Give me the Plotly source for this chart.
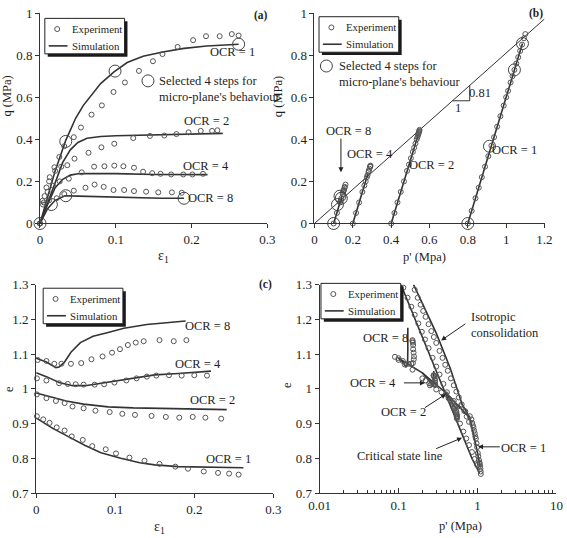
import plotly.graph_objects as go

W, H = 567, 538
def px(x): return x / W
def py(y): return 1 - y / H

# ---------------- Panel (a): q vs eps1 ----------------
a_exp1_x = [0, 0.0034, 0.0085, 0.0128, 0.019, 0.0255, 0.032, 0.0446, 0.054, 0.068, 0.0816, 0.097, 0.112, 0.1305, 0.149, 0.1616, 0.1816, 0.202, 0.219, 0.237, 0.253, 0.262]
a_exp1_y = [0, 0.108, 0.171, 0.22, 0.267, 0.316, 0.367, 0.41, 0.456, 0.517, 0.561, 0.625, 0.67, 0.725, 0.771, 0.805, 0.839, 0.871, 0.89, 0.89, 0.90, 0.893]
a_exp2_x = [0, 0.006, 0.012, 0.02, 0.028, 0.036, 0.0455, 0.064, 0.081, 0.098, 0.123, 0.145, 0.164, 0.18, 0.196, 0.212, 0.227, 0.234]
a_exp2_y = [0, 0.13, 0.2, 0.25, 0.27, 0.277, 0.308, 0.336, 0.362, 0.379, 0.406, 0.416, 0.418, 0.425, 0.433, 0.44, 0.44, 0.443]
a_exp4_x = [0, 0.005, 0.01, 0.017, 0.026, 0.038, 0.055, 0.0714, 0.085, 0.098, 0.11, 0.124, 0.136, 0.148, 0.159, 0.173, 0.189, 0.201, 0.215]
a_exp4_y = [0, 0.1, 0.15, 0.18, 0.2, 0.213, 0.243, 0.27, 0.272, 0.275, 0.272, 0.265, 0.246, 0.239, 0.236, 0.233, 0.233, 0.233, 0.236]
a_exp8_x = [0, 0.004, 0.012, 0.022, 0.032, 0.0446, 0.06, 0.072, 0.084, 0.097, 0.111, 0.124, 0.14, 0.156, 0.174, 0.187]
a_exp8_y = [0, 0.09, 0.11, 0.12, 0.14, 0.156, 0.17, 0.185, 0.174, 0.159, 0.159, 0.154, 0.151, 0.148, 0.148, 0.146]

a_sim1_x = [0, 0.01, 0.02, 0.034, 0.047, 0.057, 0.068, 0.08, 0.098, 0.115, 0.136, 0.162, 0.19, 0.22, 0.262]
a_sim1_y = [0, 0.13, 0.25, 0.395, 0.5, 0.56, 0.613, 0.665, 0.722, 0.765, 0.795, 0.815, 0.832, 0.843, 0.852]
a_sim2_x = [0, 0.01, 0.02, 0.03, 0.04, 0.05, 0.062, 0.08, 0.1, 0.15, 0.2, 0.241]
a_sim2_y = [0, 0.1, 0.2, 0.29, 0.35, 0.385, 0.405, 0.413, 0.417, 0.421, 0.425, 0.428]
a_sim4_x = [0, 0.01, 0.02, 0.03, 0.04, 0.05, 0.06, 0.1, 0.15, 0.2, 0.221]
a_sim4_y = [0, 0.09, 0.17, 0.21, 0.23, 0.236, 0.237, 0.237, 0.233, 0.232, 0.232]
a_sim8_x = [0, 0.01, 0.02, 0.033, 0.05, 0.08, 0.1, 0.13, 0.16, 0.19]
a_sim8_y = [0, 0.07, 0.11, 0.132, 0.13, 0.127, 0.125, 0.12, 0.12, 0.12]

a_sel_x = [0, 0.034, 0.099, 0.262, 0.015, 0.034, 0.19]
a_sel_y = [0, 0.39, 0.724, 0.852, 0.09, 0.132, 0.12]

# ---------------- Panel (b): q vs p' ----------------
b_exp1_p = [0.8, 0.82, 0.84, 0.857, 0.873, 0.89, 0.907, 0.923, 0.937, 0.953, 0.97, 0.987, 1.0, 1.01, 1.023, 1.033, 1.043, 1.053, 1.063, 1.073, 1.083, 1.093, 1.1]
b_exp1_q = [0, 0.06, 0.12, 0.17, 0.22, 0.27, 0.32, 0.37, 0.41, 0.46, 0.51, 0.56, 0.6, 0.63, 0.67, 0.7, 0.73, 0.76, 0.79, 0.82, 0.85, 0.88, 0.9]
b_exp2_p = [0.4, 0.417, 0.433, 0.45, 0.467, 0.483, 0.493, 0.503, 0.513, 0.52, 0.527, 0.533, 0.537, 0.54, 0.542, 0.543, 0.545, 0.547, 0.548]
b_exp2_q = [0, 0.05, 0.1, 0.15, 0.2, 0.25, 0.28, 0.31, 0.34, 0.36, 0.38, 0.4, 0.41, 0.42, 0.425, 0.43, 0.435, 0.44, 0.445]
b_exp4_p = [0.2, 0.217, 0.233, 0.25, 0.26, 0.267, 0.273, 0.277, 0.282, 0.283, 0.287, 0.29, 0.292, 0.291]
b_exp4_q = [0, 0.05, 0.1, 0.15, 0.18, 0.2, 0.22, 0.23, 0.245, 0.25, 0.26, 0.27, 0.275, 0.272]
b_exp8_p = [0.1, 0.117, 0.133, 0.137, 0.14, 0.147, 0.152, 0.157, 0.162, 0.158, 0.153, 0.151, 0.149]
b_exp8_q = [0, 0.05, 0.1, 0.11, 0.12, 0.14, 0.156, 0.17, 0.185, 0.174, 0.159, 0.154, 0.148]

b_sim1_p = [0.8, 0.85, 0.9, 0.95, 1.0, 1.05, 1.085]
b_sim1_q = [0, 0.15, 0.3, 0.45, 0.6, 0.75, 0.855]
b_sim2_p = [0.4, 0.45, 0.5, 0.543]
b_sim2_q = [0, 0.15, 0.3, 0.428]
b_sim4_p = [0.2, 0.25, 0.279]
b_sim4_q = [0, 0.15, 0.237]
b_sim8_p = [0.1, 0.127, 0.144, 0.14]
b_sim8_q = [0, 0.08, 0.133, 0.12]

b_csl_p = [0, 1.2]
b_csl_q = [0, 0.972]
b_tri_p = [0.72, 0.81, 0.81]
b_tri_q = [0.583, 0.583, 0.656]

b_sel_p = [0.8, 0.913, 1.043, 1.085, 0.1, 0.12, 0.133, 0.14]
b_sel_q = [0, 0.367, 0.73, 0.855, 0, 0.09, 0.13, 0.12]

# ---------------- Panel (c): e vs eps1 ----------------
c_exp8_x = [0.002, 0.013, 0.023, 0.032, 0.044, 0.057, 0.07, 0.084, 0.096, 0.106, 0.116, 0.126, 0.136, 0.156, 0.174, 0.19]
c_exp8_y = [1.083, 1.08, 1.072, 1.072, 1.072, 1.074, 1.085, 1.093, 1.104, 1.114, 1.126, 1.133, 1.137, 1.14, 1.137, 1.14]
c_exp4_x = [0.001, 0.013, 0.029, 0.04, 0.05, 0.06, 0.074, 0.086, 0.099, 0.114, 0.127, 0.14, 0.152, 0.168, 0.184, 0.2, 0.216]
c_exp4_y = [1.03, 1.024, 1.016, 1.014, 1.013, 1.012, 1.012, 1.013, 1.018, 1.024, 1.03, 1.035, 1.038, 1.039, 1.038, 1.039, 1.038]
c_exp2_x = [0.001, 0.013, 0.025, 0.036, 0.046, 0.06, 0.075, 0.093, 0.109, 0.125, 0.146, 0.164, 0.181, 0.198, 0.214, 0.234]
c_exp2_y = [0.984, 0.973, 0.965, 0.959, 0.949, 0.944, 0.937, 0.933, 0.928, 0.925, 0.922, 0.919, 0.917, 0.919, 0.917, 0.914]
c_exp1_x = [0.001, 0.009, 0.017, 0.026, 0.036, 0.045, 0.059, 0.071, 0.088, 0.101, 0.118, 0.137, 0.156, 0.176, 0.192, 0.212, 0.23, 0.244, 0.256]
c_exp1_y = [0.921, 0.912, 0.902, 0.889, 0.88, 0.863, 0.853, 0.835, 0.826, 0.814, 0.802, 0.793, 0.784, 0.776, 0.77, 0.762, 0.758, 0.756, 0.753]

c_sim8_x = [0, 0.013, 0.025, 0.029, 0.036, 0.044, 0.056, 0.072, 0.091, 0.111, 0.14, 0.189]
c_sim8_y = [1.088, 1.077, 1.061, 1.063, 1.077, 1.105, 1.133, 1.151, 1.162, 1.174, 1.185, 1.195]
c_sim4_x = [0, 0.013, 0.029, 0.046, 0.062, 0.082, 0.103, 0.127, 0.15, 0.18, 0.221]
c_sim4_y = [1.046, 1.035, 1.018, 1.009, 1.009, 1.016, 1.024, 1.033, 1.04, 1.044, 1.051]
c_sim2_x = [0, 0.017, 0.038, 0.06, 0.091, 0.123, 0.15, 0.197, 0.241]
c_sim2_y = [0.988, 0.977, 0.965, 0.956, 0.948, 0.945, 0.944, 0.943, 0.94]
c_sim1_x = [0, 0.021, 0.042, 0.062, 0.082, 0.107, 0.131, 0.15, 0.18, 0.221, 0.262]
c_sim1_y = [0.916, 0.886, 0.861, 0.837, 0.816, 0.8, 0.787, 0.781, 0.776, 0.774, 0.773]

# ---------------- Panel (d): e vs log p' ----------------
d_iso_sim_p = [0.155, 0.3, 0.45, 0.64, 0.8]
d_iso_sim_e = [1.3, 1.16, 1.06, 0.955, 0.916]
d_iso_exp_p = [0.16, 0.175, 0.19, 0.205, 0.22, 0.24, 0.26, 0.28, 0.3, 0.33, 0.36, 0.39, 0.42, 0.46, 0.5, 0.54, 0.58, 0.63, 0.68, 0.73, 0.78]
d_iso_exp_e = [1.285, 1.262, 1.242, 1.224, 1.207, 1.186, 1.166, 1.149, 1.132, 1.109, 1.089, 1.069, 1.052, 1.03, 1.01, 0.992, 0.975, 0.955, 0.936, 0.92, 0.905]

d_csl_sim_p = [0.107, 0.2, 0.3, 0.45, 0.65, 0.85, 1.06]
d_csl_sim_e = [1.3, 1.15, 1.055, 0.957, 0.865, 0.8, 0.757]
d_csl_exp_p = [0.115, 0.13, 0.145, 0.16, 0.178, 0.197, 0.216, 0.24, 0.27, 0.3, 0.33, 0.37, 0.41, 0.45, 0.5, 0.55, 0.6, 0.66, 0.72, 0.78, 0.85, 0.92, 0.99]
d_csl_exp_e = [1.291, 1.262, 1.236, 1.213, 1.188, 1.164, 1.142, 1.117, 1.089, 1.064, 1.041, 1.014, 0.99, 0.968, 0.943, 0.921, 0.9, 0.877, 0.857, 0.838, 0.818, 0.798, 0.781]

d_sw_sim_p = [0.1, 0.2, 0.4, 0.8]
d_sw_sim_e = [1.088, 1.046, 0.988, 0.916]
d_sw_exp_p = [0.09, 0.1, 0.12, 0.15, 0.25, 0.3, 0.35, 0.5, 0.6, 0.7]
d_sw_exp_e = [1.092, 1.088, 1.07, 1.055, 1.01, 0.998, 0.99, 0.965, 0.95, 0.935]

d_sim1_p = [0.8, 0.88, 0.97, 1.04, 1.085]
d_sim1_e = [0.916, 0.877, 0.83, 0.795, 0.773]
d_exp1_p = [0.8, 0.836, 0.857, 0.873, 0.889, 0.905, 0.922, 0.937, 0.952, 0.972, 0.987, 1.008, 1.023, 1.042, 1.057, 1.068, 1.08, 1.09, 1.097, 1.1]
d_exp1_e = [0.921, 0.912, 0.902, 0.895, 0.889, 0.88, 0.872, 0.863, 0.856, 0.843, 0.832, 0.815, 0.806, 0.795, 0.788, 0.784, 0.777, 0.77, 0.762, 0.755]

d_sim2_p = [0.4, 0.45, 0.5, 0.53, 0.543]
d_sim2_e = [0.988, 0.97, 0.955, 0.947, 0.94]
d_exp2_p = [0.4, 0.43, 0.46, 0.49, 0.51, 0.525, 0.535, 0.54, 0.542, 0.545, 0.545, 0.547, 0.548, 0.548]
d_exp2_e = [0.984, 0.973, 0.965, 0.959, 0.949, 0.944, 0.937, 0.933, 0.928, 0.925, 0.921, 0.919, 0.917, 0.914]

d_sim4_p = [0.2, 0.23, 0.26, 0.275, 0.279, 0.279, 0.279]
d_sim4_e = [1.046, 1.03, 1.015, 1.009, 1.02, 1.035, 1.051]
d_exp4_p = [0.2, 0.22, 0.245, 0.26, 0.275, 0.283, 0.29, 0.29, 0.29, 0.29, 0.288, 0.283, 0.28, 0.279, 0.277]
d_exp4_e = [1.03, 1.024, 1.016, 1.014, 1.013, 1.012, 1.012, 1.013, 1.018, 1.024, 1.03, 1.035, 1.038, 1.039, 1.038]

d_sim8_p = [0.1, 0.115, 0.125, 0.13, 0.131, 0.131, 0.131]
d_sim8_e = [1.088, 1.075, 1.062, 1.07, 1.11, 1.15, 1.176]
d_exp8_p = [0.1, 0.113, 0.125, 0.135, 0.145, 0.152, 0.156, 0.157, 0.155, 0.153, 0.153, 0.152, 0.15, 0.15]
d_exp8_e = [1.083, 1.08, 1.072, 1.072, 1.072, 1.074, 1.085, 1.093, 1.104, 1.114, 1.126, 1.133, 1.137, 1.14]

legend_labels = ["Experiment", "Simulation"]
selected_label = "Selected 4 steps for<br>micro-plane's behaviour"

# ---------------- Styles ----------------
SERIF = "Liberation Serif"
TXT = "#1e1e1e"
MCOL = "#555555"
LCOL = "#333333"
EXP = dict(symbol="circle-open", size=5, color=MCOL, line=dict(width=1, color=MCOL))
BIG = dict(symbol="circle-open", size=12, color="#444444", line=dict(width=1, color="#444444"))
SIM = dict(color=LCOL, width=1.6)
FS = 12.5

fig = go.Figure()
axes = {"a": ("x", "y"), "b": ("x2", "y2"), "c": ("x3", "y3"), "d": ("x4", "y4")}

def exp(panel, x, y):
    xa, ya = axes[panel]
    fig.add_trace(go.Scatter(x=x, y=y, mode="markers", marker=EXP, xaxis=xa, yaxis=ya,
                             name=legend_labels[0], showlegend=False, cliponaxis=False))

def sim(panel, x, y, line=SIM):
    xa, ya = axes[panel]
    fig.add_trace(go.Scatter(x=x, y=y, mode="lines", line=line, xaxis=xa, yaxis=ya,
                             name=legend_labels[1], showlegend=False))

for xs, ys in [(a_sim1_x, a_sim1_y), (a_sim2_x, a_sim2_y), (a_sim4_x, a_sim4_y), (a_sim8_x, a_sim8_y)]:
    sim("a", xs, ys)
for xs, ys in [(a_exp1_x, a_exp1_y), (a_exp2_x, a_exp2_y), (a_exp4_x, a_exp4_y), (a_exp8_x, a_exp8_y)]:
    exp("a", xs, ys)
fig.add_trace(go.Scatter(x=a_sel_x, y=a_sel_y, mode="markers", marker=BIG, xaxis="x", yaxis="y",
                         showlegend=False, cliponaxis=False, name="Selected"))
sim("b", b_csl_p, b_csl_q, line=dict(color=LCOL, width=1))
sim("b", b_tri_p, b_tri_q, line=dict(color=LCOL, width=1))
for xs, ys in [(b_sim1_p, b_sim1_q), (b_sim2_p, b_sim2_q), (b_sim4_p, b_sim4_q), (b_sim8_p, b_sim8_q)]:
    sim("b", xs, ys)
for xs, ys in [(b_exp1_p, b_exp1_q), (b_exp2_p, b_exp2_q), (b_exp4_p, b_exp4_q), (b_exp8_p, b_exp8_q)]:
    exp("b", xs, ys)
fig.add_trace(go.Scatter(x=b_sel_p, y=b_sel_q, mode="markers", marker=BIG, xaxis="x2", yaxis="y2",
                         showlegend=False, cliponaxis=False, name="Selected"))
for xs, ys in [(c_sim8_x, c_sim8_y), (c_sim4_x, c_sim4_y), (c_sim2_x, c_sim2_y), (c_sim1_x, c_sim1_y)]:
    sim("c", xs, ys)
for xs, ys in [(c_exp8_x, c_exp8_y), (c_exp4_x, c_exp4_y), (c_exp2_x, c_exp2_y), (c_exp1_x, c_exp1_y)]:
    exp("c", xs, ys)
for xs, ys in [(d_iso_sim_p, d_iso_sim_e), (d_csl_sim_p, d_csl_sim_e), (d_sw_sim_p, d_sw_sim_e),
               (d_sim1_p, d_sim1_e), (d_sim2_p, d_sim2_e), (d_sim4_p, d_sim4_e), (d_sim8_p, d_sim8_e)]:
    sim("d", xs, ys)
for xs, ys in [(d_iso_exp_p, d_iso_exp_e), (d_csl_exp_p, d_csl_exp_e), (d_sw_exp_p, d_sw_exp_e),
               (d_exp1_p, d_exp1_e), (d_exp2_p, d_exp2_e), (d_exp4_p, d_exp4_e), (d_exp8_p, d_exp8_e)]:
    exp("d", xs, ys)

TICKF = dict(family=SERIF, size=13, color=TXT)
def axstyle(**kw):
    d = dict(showline=True, linecolor=LCOL, linewidth=1, ticks="outside", ticklen=4,
             tickcolor=LCOL, showgrid=False, zeroline=False, tickfont=TICKF, fixedrange=True)
    d.update(kw)
    return d

ya_dom = [py(222.7), py(6.2)]
yc_dom = [py(500), py(285.5)]
fig.update_layout(
    width=W, height=H, margin=dict(l=0, r=0, t=0, b=0),
    paper_bgcolor="white", plot_bgcolor="white", showlegend=False,
    font=dict(family=SERIF, size=FS, color=TXT),
    xaxis=axstyle(domain=[px(30), px(265.3)], anchor="y", range=[0, 0.3], dtick=0.1),
    yaxis=axstyle(domain=ya_dom, anchor="x", range=[0, 1], dtick=0.2),
    xaxis2=axstyle(domain=[px(314), px(552)], anchor="y2", range=[0, 1.2], dtick=0.2),
    yaxis2=axstyle(domain=ya_dom, anchor="x2", range=[0, 1], dtick=0.2),
    xaxis3=axstyle(domain=[px(26), px(271.5)], anchor="y3", range=[0, 0.3], dtick=0.1),
    yaxis3=axstyle(domain=yc_dom, anchor="x3", range=[0.7, 1.3], dtick=0.1),
    xaxis4=axstyle(domain=[px(319.3), px(564.4)], anchor="y4", type="log", range=[-2, 1], dtick=1,
                   ticks="inside", ticklen=5,
                   minor=dict(ticks="inside", ticklen=3, tickcolor=LCOL, showgrid=False)),
    yaxis4=axstyle(domain=yc_dom, anchor="x4", range=[0.7, 1.3], dtick=0.1),
)

ann = []
shapes = []
def txt(xr, yr, x, y, t, size=FS, xanchor="center", align="center", bold=False):
    ann.append(dict(xref=xr, yref=yr, x=x, y=y, text=("<b>%s</b>" % t if bold else t), showarrow=False,
                    xanchor=xanchor, yanchor="middle", align=align,
                    font=dict(family=SERIF, size=size, color=TXT)))
def arrow(xr, yr, x, y, ax, ay):
    ann.append(dict(xref=xr, yref=yr, axref=xr, ayref=yr, x=x, y=y, ax=ax, ay=ay, text=" ",
                    showarrow=True, arrowhead=2, arrowsize=1, arrowwidth=1, arrowcolor="#222",
                    font=dict(size=1)))
def pcircle(cx, cy, r, color, width=1):
    shapes.append(dict(type="circle", xref="paper", yref="paper", xsizemode="pixel", ysizemode="pixel",
                       xanchor=px(cx), yanchor=py(cy), x0=-r, x1=r, y0=-r, y1=r,
                       line=dict(color=color, width=width), fillcolor="rgba(0,0,0,0)", layer="above"))

# hand-drawn legend boxes (with drop shadow), positioned in pixels
for (lx, ly) in [(35, 11.7), (318.7, 10), (33.3, 289.3), (320.7, 284.3)]:
    bw, bh = 82.5, 36.5
    shapes.append(dict(type="rect", xref="paper", yref="paper", x0=px(lx + 3), x1=px(lx + 3 + bw),
                       y0=py(ly + 3 + bh), y1=py(ly + 3), fillcolor="#1a1a1a", line=dict(width=0), layer="above"))
    shapes.append(dict(type="rect", xref="paper", yref="paper", x0=px(lx), x1=px(lx + bw),
                       y0=py(ly + bh), y1=py(ly), fillcolor="white", line=dict(color="#222", width=1), layer="above"))
    pcircle(lx + 12.8, ly + 11, 2.5, MCOL)
    shapes.append(dict(type="line", xref="paper", yref="paper", x0=px(lx + 4), x1=px(lx + 23.5),
                       y0=py(ly + 28.3), y1=py(ly + 28.3), line=dict(color=LCOL, width=1.6), layer="above"))
    txt("paper", "paper", px(lx + 26), py(ly + 11), legend_labels[0], 10.8, xanchor="left")
    txt("paper", "paper", px(lx + 26), py(ly + 28.3), legend_labels[1], 10.8, xanchor="left")

# panel a texts
txt("x", "y", 0.291, 0.99, "(a)", 11.5, bold=True)
txt("x", "y", 0.254, 0.813, "OCR = 1")
txt("x", "y", 0.219, 0.485, "OCR = 2")
txt("x", "y", 0.219, 0.274, "OCR = 4")
txt("x", "y", 0.2245, 0.123, "OCR = 8")
pcircle(141.7, 76, 6, "#444")
txt("paper", "paper", px(151.5), py(84), selected_label, FS, xanchor="left", align="left")
# panel b texts
txt("x2", "y2", 1.155, 0.998, "(b)", 11.5, bold=True)
txt("x2", "y2", 0.18, 0.44, "OCR = 8")
arrow("x2", "y2", 0.138, 0.243, 0.138, 0.413)
txt("x2", "y2", 0.289, 0.328, "OCR = 4")
txt("x2", "y2", 0.609, 0.277, "OCR = 2")
txt("x2", "y2", 1.045, 0.351, "OCR = 1")
txt("x2", "y2", 0.861, 0.621, "0.81")
txt("x2", "y2", 0.751, 0.547, "1")
pcircle(326.3, 60.7, 6, "#444")
txt("paper", "paper", px(337), py(68.5), selected_label, FS, xanchor="left", align="left")
# panel c texts
txt("x3", "y3", 0.29, 1.3, "(c)", 11.5, bold=True)
txt("x3", "y3", 0.2167, 1.181, "OCR = 8")
txt("x3", "y3", 0.205, 1.071, "OCR = 4")
txt("x3", "y3", 0.2228, 0.967, "OCR = 2")
txt("x3", "y3", 0.243, 0.798, "OCR = 1")
# panel d texts (log axis -> log10 positions)
txt("x4", "y4", 0.845, 1.302, "(d)", 11.5, bold=True)
txt("x4", "y4", -1.163, 1.145, "OCR = 8")
txt("x4", "y4", -1.318, 1.017, "OCR = 4")
arrow("x4", "y4", -0.666, 1.017, -0.951, 1.017)
txt("x4", "y4", -0.935, 0.933, "OCR = 2")
arrow("x4", "y4", -0.40, 0.985, -0.685, 0.943)
txt("x4", "y4", -0.976, 0.808, "Critical state line")
arrow("x4", "y4", -0.196, 0.859, -0.543, 0.826)
txt("x4", "y4", -0.103, 1.183, "Isotropic<br>consolidation", FS, xanchor="left", align="left")
arrow("x4", "y4", -0.461, 1.139, -0.135, 1.19)
txt("x4", "y4", 0.579, 0.831, "OCR = 1")
arrow("x4", "y4", 0.007, 0.833, 0.301, 0.833)

# axis titles
txt("paper", "paper", px(158.3), py(257), "ε<sub>1</sub>", 14)
txt("paper", "paper", px(428), py(257), "p' (Mpa)", FS)
txt("paper", "paper", px(153.3), py(535), "ε<sub>1</sub>", 14)
txt("paper", "paper", px(464.7), py(534), "p' (Mpa)", FS)
for (xx, yy, t) in [(-4, 92, "q (MPa)"), (277, 92, "q (MPa)"), (-2, 393, "e"), (285.5, 389, "e")]:
    ann.append(dict(xref="paper", yref="paper", x=px(xx), y=py(yy), text=t, showarrow=False,
                    textangle=-90, xanchor="center", yanchor="middle",
                    font=dict(family=SERIF, size=FS, color=TXT)))

fig.update_layout(annotations=ann, shapes=shapes)
fig.write_html("out.html")
